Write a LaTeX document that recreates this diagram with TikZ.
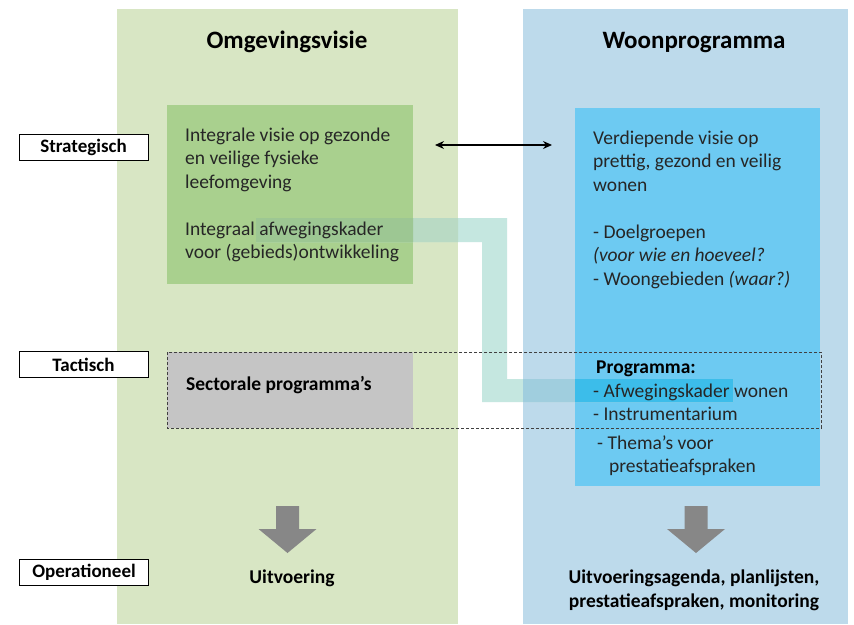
\documentclass[tikz,border=0pt]{standalone}
\usepackage{fontspec}
\setmainfont{Carlito}
\usetikzlibrary{arrows.meta}
\definecolor{colgreen}{RGB}{216,230,196}
\definecolor{boxgreen}{RGB}{169,208,142}
\definecolor{colblue}{RGB}{189,218,235}
\definecolor{boxblue}{RGB}{109,202,242}
\definecolor{boxgrey}{RGB}{197,197,197}
\definecolor{bandwhite}{RGB}{197,231,224}
\definecolor{bandlgreen}{RGB}{185,218,196}
\definecolor{bandgreen}{RGB}{157,199,147}
\definecolor{bandlblue}{RGB}{160,206,222}
\definecolor{bandblue}{RGB}{60,189,234}
\definecolor{bodytext}{RGB}{38,38,38}
\definecolor{bigarrow}{RGB}{135,135,135}
\tikzset{
  area/.style={inner sep=0pt, outer sep=0pt, anchor=north west},
  bodyline/.style={inner sep=0pt, anchor=base west, text=bodytext, font=\fontsize{19.5}{23.5}\selectfont},
  boldline/.style={inner sep=0pt, anchor=base west, text=black, font=\bfseries\fontsize{19.5}{23.5}\selectfont},
  boldmid/.style={inner sep=0pt, anchor=base, text=black, font=\bfseries\fontsize{19.5}{23.5}\selectfont},
  title/.style={inner sep=0pt, anchor=base, text=black, font=\bfseries\fontsize{25}{30}\selectfont},
  levelbox/.style={draw=black, line width=0.8pt, fill=white, minimum width=129pt, minimum height=26pt, inner sep=0pt, font=\bfseries\fontsize{19}{22}\selectfont},
  blockarrow/.style={fill=bigarrow, draw=none},
}
\begin{document}
\begin{tikzpicture}[x=1pt,y=-1pt]
\useasboundingbox (0,0) rectangle (854,624);
\fill[white] (0,0) rectangle (854,624);

% columns
\node[area, fill=colgreen, minimum width=341pt, minimum height=615pt] (colL) at (117,9) {};
\node[area, fill=colblue, minimum width=325pt, minimum height=615pt] (colR) at (523,9) {};

% inner boxes
\node[area, fill=boxgreen, minimum width=246pt, minimum height=179pt] (gbox) at (167,105) {};
\node[area, fill=boxblue, minimum width=245pt, minimum height=378pt] (bbox) at (575,108) {};
\node[area, fill=boxgrey, minimum width=246pt, minimum height=76pt] (grbox) at (167,352) {};

% translucent band
\def\bandpath{(256,218) -- (507,218) -- (507,379) -- (733,379) -- (733,402) -- (482,402) -- (482,242) -- (256,242) -- cycle}
\fill[bandwhite] \bandpath;
\begin{scope}
  \clip (117,9) rectangle (458,624);
  \fill[bandlgreen] \bandpath;
\end{scope}
\begin{scope}
  \clip (167,105) rectangle (413,284);
  \fill[bandgreen] \bandpath;
\end{scope}
\begin{scope}
  \clip (523,9) rectangle (848,624);
  \fill[bandlblue] \bandpath;
\end{scope}
\begin{scope}
  \clip (575,108) rectangle (820,486);
  \fill[bandblue] \bandpath;
\end{scope}

% dashed tactical frame
\draw[draw=black!75, line width=0.8pt, dash pattern=on 3pt off 2pt] (167,352) rectangle (821,428);

% titles
\node[title] (t1) at (287,48) {Omgevingsvisie};
\node[title] (t2) at (694,48) {Woonprogramma};

% green box text
\node[bodyline] (g1) at (185,141) {Integrale visie op gezonde};
\node[bodyline] (g2) at (185,164.5) {en veilige fysieke};
\node[bodyline] (g3) at (185,188) {leefomgeving};
\node[bodyline] (g4) at (185,235) {Integraal afwegingskader};
\node[bodyline] (g5) at (185,258.5) {voor (gebieds)ontwikkeling};

% blue box text
\node[bodyline] (b1) at (593,144) {Verdiepende visie op};
\node[bodyline] (b2) at (593,167.5) {prettig, gezond en veilig};
\node[bodyline] (b3) at (593,191) {wonen};
\node[bodyline] (b4) at (593,238) {- Doelgroepen};
\node[bodyline] (b5) at (593,261.5) {\itshape (voor wie en hoeveel?};
\node[bodyline] (b6) at (593,285) {- Woongebieden \itshape (waar?)};

% tactical
\node[boldline] (sp) at (186,390) {Sectorale programma’s};
\node[boldline] (p1) at (596,373) {Programma:};
\node[bodyline] (p2) at (593,397) {- Afwegingskader wonen};
\node[bodyline] (p3) at (593,420) {- Instrumentarium};
\node[bodyline] (p4) at (597,449) {- Thema’s voor};
\node[bodyline] (p5) at (609,472) {prestatieafspraken};

% operational
\node[boldmid] (o1) at (292,583) {Uitvoering};
\node[boldmid] (o2) at (694,583) {Uitvoeringsagenda, planlijsten,};
\node[boldmid] (o3) at (694,607) {prestatieafspraken, monitoring};

% level labels
\node[levelbox] (lv1) at (83.5,147) {Strategisch};
\node[levelbox] (lv2) at (83.5,364.5) {Tactisch};
\node[levelbox] (lv3) at (84,572.5) {Operationeel};

% double arrow
\coordinate (aL) at (435,145);
\coordinate (aR) at (552,145);
\draw[line width=1.3pt, {Stealth[length=9pt,width=8pt]}-{Stealth[length=9pt,width=8pt]}] (aL) -- (aR);

% block arrows
\fill[blockarrow] (276,506) -- (299,506) -- (299,529) -- (316.5,529) -- (287.5,553) -- (258.5,529) -- (276,529) -- cycle;
\fill[blockarrow] (684.5,506) -- (707.5,506) -- (707.5,529) -- (725,529) -- (696,553) -- (667,529) -- (684.5,529) -- cycle;
\end{tikzpicture}
\end{document}
